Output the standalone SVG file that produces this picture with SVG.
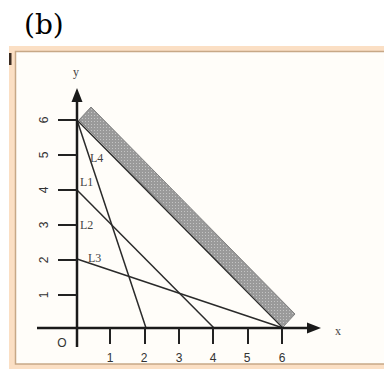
<svg xmlns="http://www.w3.org/2000/svg" width="384" height="369" viewBox="0 0 384 369">
<defs>
<style>
.ax{stroke:#1a1a1a;stroke-width:2.5;fill:none}
.tk{stroke:#222;stroke-width:2;fill:none}
.ln{stroke:#2a2a2a;stroke-width:1.5;fill:none}
.num{font-family:"Liberation Sans",Arial,sans-serif;font-size:12px;fill:#333}
.lab{font-family:"Liberation Serif","Times New Roman",serif;font-size:12px;fill:#444}
</style>
<pattern id="dots" width="3" height="3" patternUnits="userSpaceOnUse">
<rect width="3" height="3" fill="#9a9a9a"/>
<rect x="1" y="1" width="1" height="1" fill="#c4c4c4"/>
</pattern>
</defs>
<text x="24" y="34" font-family="DejaVu Serif,serif" font-size="28" fill="#000">(b)</text>
<g id="frame">
<rect x="9" y="46" width="380" height="326" fill="#fbdfc4"/>
<rect x="15.5" y="51.5" width="375" height="312.5" fill="#fffdf9" stroke="#c7a887" stroke-width="1.5"/>
<rect x="9" y="53" width="2.5" height="12" fill="#3a2a20"/>
</g>
<g id="connectors">
<line class="ln" x1="77" y1="120" x2="146" y2="328"/>
<line class="ln" x1="77" y1="190" x2="214" y2="328"/>
<line class="ln" x1="77" y1="259" x2="283" y2="328"/>
<line class="ln" x1="77" y1="120" x2="283" y2="328"/>
</g>
<g id="band">
<polygon points="79,120 91,107 295,314 283,327" fill="url(#dots)" stroke="#808080" stroke-width="1"/>
</g>
<g id="axes">
<line class="ax" x1="77" y1="347" x2="77" y2="100"/>
<polygon points="77,88 71.5,102 82.5,102" fill="#1a1a1a"/>
<line class="ax" x1="37" y1="328" x2="308" y2="328"/>
<polygon points="321,328 307,322.5 307,333.5" fill="#1a1a1a"/>
<g class="tk">
<line x1="58" y1="120" x2="77" y2="120"/>
<line x1="58" y1="155" x2="77" y2="155"/>
<line x1="58" y1="190" x2="77" y2="190"/>
<line x1="58" y1="225" x2="77" y2="225"/>
<line x1="58" y1="260" x2="77" y2="260"/>
<line x1="58" y1="295" x2="77" y2="295"/>
<line x1="110" y1="328" x2="110" y2="344"/>
<line x1="145" y1="328" x2="145" y2="344"/>
<line x1="179" y1="328" x2="179" y2="344"/>
<line x1="213" y1="328" x2="213" y2="344"/>
<line x1="248" y1="328" x2="248" y2="344"/>
<line x1="282" y1="328" x2="282" y2="344"/>
</g>
</g>
<g id="ylabels" class="num" text-anchor="middle">
<text transform="translate(48,120) rotate(-90)">6</text>
<text transform="translate(48,155) rotate(-90)">5</text>
<text transform="translate(48,190) rotate(-90)">4</text>
<text transform="translate(48,225) rotate(-90)">3</text>
<text transform="translate(48,260) rotate(-90)">2</text>
<text transform="translate(48,295) rotate(-90)">1</text>
</g>
<g id="xlabels" class="num" text-anchor="middle">
<text x="62" y="347">O</text>
<text x="110" y="362">1</text>
<text x="144" y="362">2</text>
<text x="179" y="362">3</text>
<text x="213" y="362">4</text>
<text x="247" y="362">5</text>
<text x="282" y="362">6</text>
<text x="338" y="335" class="lab">x</text>
<text x="76" y="76" class="lab">y</text>
</g>
<g id="linelabels" class="lab">
<text x="90" y="162">L4</text>
<text x="80" y="186">L1</text>
<text x="80" y="229">L2</text>
<text x="88" y="262">L3</text>
</g>
</svg>
